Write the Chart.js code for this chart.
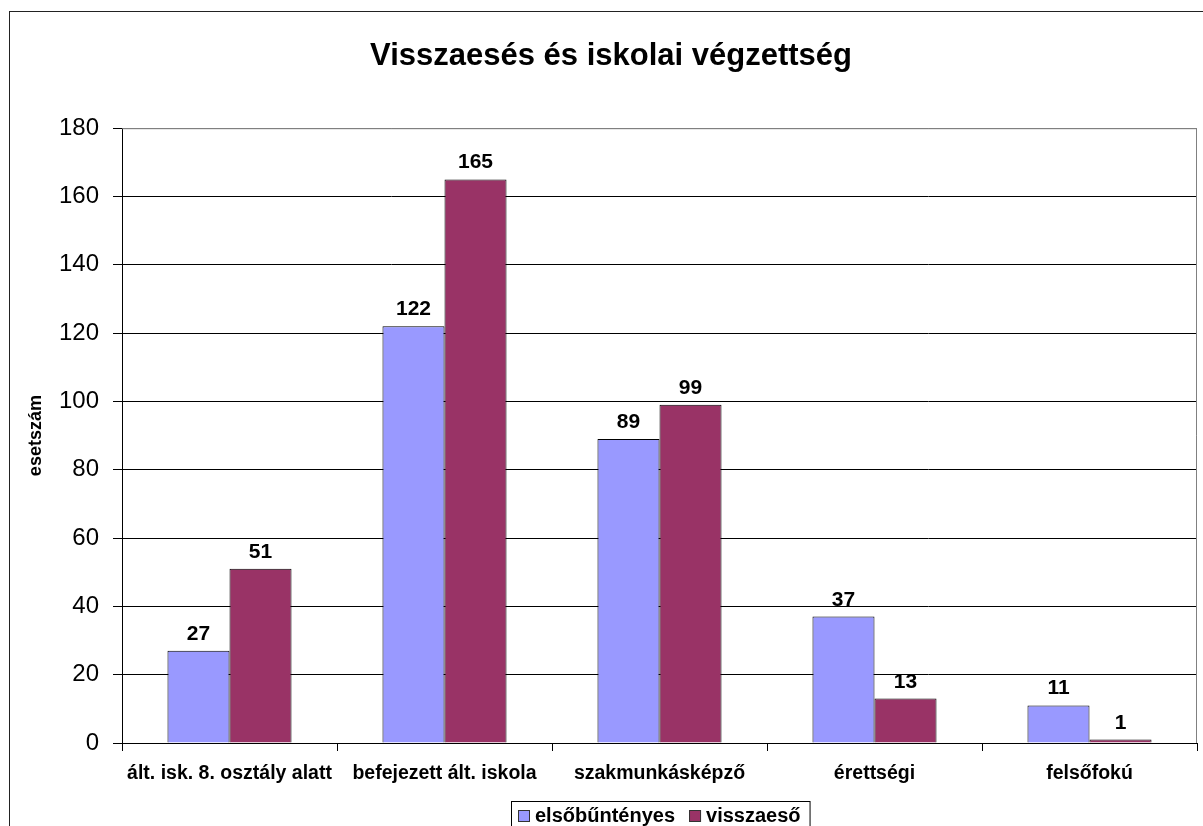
<!DOCTYPE html>
<html lang="hu">
<head>
    <meta charset="UTF-8">
    <title>Visszaesés és iskolai végzettség</title>
    <script src="https://cdn.jsdelivr.net/npm/chart.js"></script>
    <style>
        body {
            margin: 0;
            background: #ffffff;
            overflow: hidden;
            font-family: 'Liberation Sans', Arial, sans-serif;
        }

        .frame {
            position: absolute;
            left: 9px;
            top: 11px;
            width: 1210px;
            height: 840px;
            border: 1px solid #222;
            background: #fff;
        }

        #chart {
            display: block;
        }
    </style>
</head>
<body>
    <div class="frame">
        <canvas id="chart" width="1210" height="840"></canvas>
    </div>

    <script>
        const categories = ['ált. isk. 8. osztály alatt', 'befejezett ált. iskola', 'szakmunkásképző', 'érettségi', 'felsőfokú'];
        const firstOffenders = [27, 122, 89, 37, 11];
        const repeatOffenders = [51, 165, 99, 13, 1];
        const seriesNames = ['elsőbűntényes', 'visszaeső'];
        const seriesColors = ['#9999FF', '#993366'];

        const FONT = "'Liberation Sans', Arial, sans-serif";
        const PLOT_BOTTOM = 731; // canvas y of the value axis zero line

        // numbers over the bars
        const valueLabels = {
            id: 'valueLabels',
            afterDatasetsDraw(chart) {
                const ctx = chart.ctx;
                ctx.save();
                ctx.font = 'bold 21px ' + FONT;
                ctx.fillStyle = '#000';
                ctx.textAlign = 'center';
                ctx.textBaseline = 'alphabetic';
                chart.data.datasets.forEach((ds, i) => {
                    chart.getDatasetMeta(i).data.forEach((bar, j) => {
                        ctx.fillText(ds.data[j], bar.x, bar.y - 11);
                    });
                });
                ctx.restore();
            }
        };

        // grey plot border (top, right)
        const plotFrame = {
            id: 'plotFrame',
            beforeDatasetsDraw(chart) {
                const a = chart.chartArea;
                const ctx = chart.ctx;
                ctx.save();
                ctx.strokeStyle = '#808080';
                ctx.lineWidth = 1;
                ctx.beginPath();
                ctx.moveTo(a.left, a.top + 0.5);
                ctx.lineTo(a.right - 0.5, a.top + 0.5);
                ctx.lineTo(a.right - 0.5, a.bottom);
                ctx.stroke();
                ctx.restore();
            }
        };

        // Excel-like boxed legend, sitting a bit right of centre like the original
        const boxLegend = {
            id: 'boxLegend',
            afterDraw(chart) {
                const ctx = chart.ctx;
                ctx.save();
                ctx.font = 'bold 20px ' + FONT;
                ctx.textBaseline = 'middle';
                ctx.textAlign = 'left';
                const startX = 508, midY = 804;
                let x = startX;
                chart.data.datasets.forEach((ds, i) => {
                    ctx.fillStyle = ds.backgroundColor;
                    ctx.fillRect(x, midY - 6, 12, 12);
                    ctx.strokeStyle = '#333';
                    ctx.lineWidth = 1;
                    ctx.strokeRect(x + 0.5, midY - 5.5, 11, 11);
                    ctx.fillStyle = '#000';
                    ctx.fillText(ds.label, x + 17, midY);
                    x += 17 + ctx.measureText(ds.label).width + 14;
                });
                const right = x - 14 + 9;
                ctx.strokeStyle = '#000';
                ctx.strokeRect(startX - 7 + 0.5, 789.5, right - startX + 7, 40);
                ctx.restore();
            }
        };

        const ctx = document.getElementById('chart').getContext('2d');

        new Chart(ctx, {
            type: 'bar',
            data: {
                labels: categories,
                datasets: [{
                    label: seriesNames[0],
                    data: firstOffenders,
                    backgroundColor: seriesColors[0],
                    borderColor: '#000',
                    borderWidth: 1,
                    borderSkipped: 'bottom'
                }, {
                    label: seriesNames[1],
                    data: repeatOffenders,
                    backgroundColor: seriesColors[1],
                    borderColor: '#000',
                    borderWidth: 1,
                    borderSkipped: 'bottom'
                }]
            },
            options: {
                responsive: false,
                animation: false,
                categoryPercentage: 0.577,
                barPercentage: 1,
                layout: {
                    padding: { left: 15, right: 23, top: 0, bottom: 0 }
                },
                plugins: {
                    title: {
                        display: true,
                        text: 'Visszaesés és iskolai végzettség',
                        color: '#000',
                        font: { family: FONT, size: 31, weight: 'bold' },
                        padding: { top: 26, bottom: 53 }
                    },
                    legend: { display: false },
                    tooltip: { enabled: false }
                },
                scales: {
                    x: {
                        grid: {
                            drawOnChartArea: false,
                            drawTicks: true,
                            tickLength: 8,
                            color: '#000'
                        },
                        border: { color: '#000' },
                        ticks: {
                            color: '#000',
                            font: { family: FONT, size: 19.5, weight: 'bold' },
                            padding: 11,
                            maxRotation: 0,
                            autoSkip: false
                        },
                        afterFit(scale) {
                            scale.height = scale.chart.height - PLOT_BOTTOM;
                        }
                    },
                    y: {
                        min: 0,
                        max: 180,
                        ticks: {
                            stepSize: 20,
                            color: '#000',
                            font: { family: FONT, size: 24 },
                            padding: 14
                        },
                        grid: {
                            color: (c) => c.tick && c.tick.value === 180 ? '#808080' : '#000',
                            tickColor: '#000',
                            tickLength: 9
                        },
                        border: { color: '#000' },
                        title: {
                            display: true,
                            text: 'esetszám',
                            color: '#000',
                            font: { family: FONT, size: 18, weight: 'bold' },
                            padding: { top: 0, bottom: 0 }
                        },
                        afterFit(scale) {
                            scale.width = 97;
                        }
                    }
                }
            },
            plugins: [valueLabels, plotFrame, boxLegend]
        });
    </script>
</body>
</html>
